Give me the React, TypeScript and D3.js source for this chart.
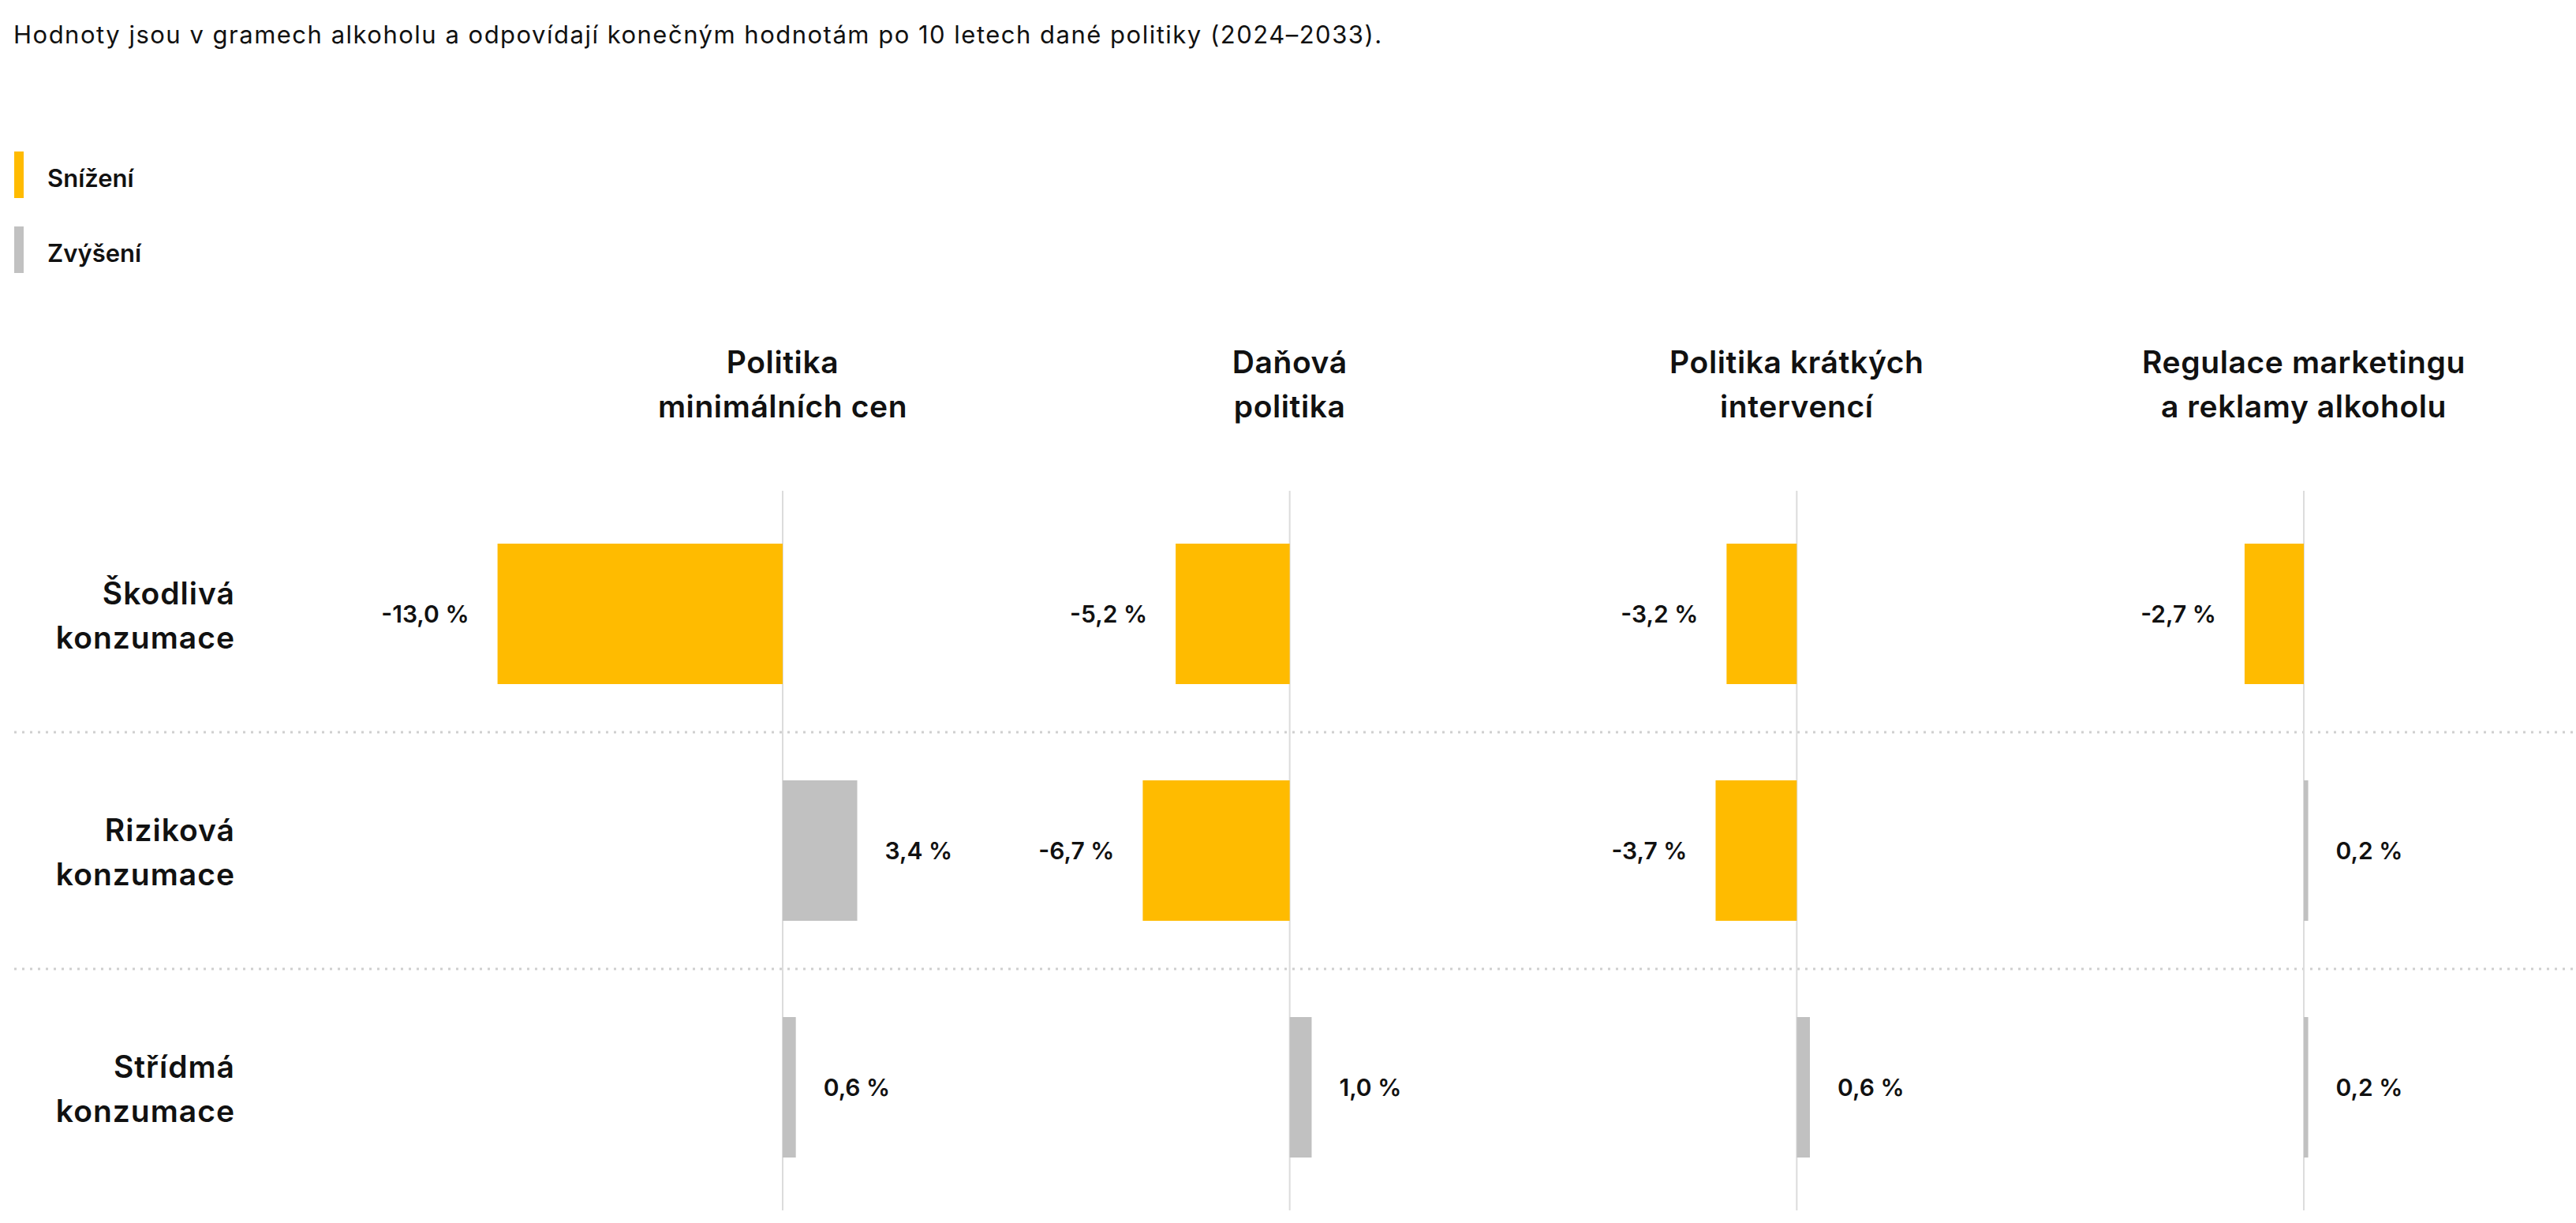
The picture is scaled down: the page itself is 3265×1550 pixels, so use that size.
import * as d3 from "d3";

const policies = [
  "Politika minimálních cen",
  "Daňová politika",
  "Politika krátkých intervencí",
  "Regulace marketingu a reklamy alkoholu",
];
const policyLines = [
  ["Politika", "minimálních cen"],
  ["Daňová", "politika"],
  ["Politika krátkých", "intervencí"],
  ["Regulace marketingu", "a reklamy alkoholu"],
];
const groups = ["Škodlivá konzumace", "Riziková konzumace", "Střídmá konzumace"];
const groupLines = [
  ["Škodlivá", "konzumace"],
  ["Riziková", "konzumace"],
  ["Střídmá", "konzumace"],
];
// values per policy, in order of groups
const minPrice = [-13.0, 3.4, 0.6];
const tax = [-5.2, -6.7, 1.0];
const briefInterv = [-3.2, -3.7, 0.6];
const marketing = [-2.7, 0.2, 0.2];
const values = [minPrice, tax, briefInterv, marketing];

const legendItems = ["Snížení", "Zvýšení"];
const subtitle =
  "Hodnoty jsou v gramech alkoholu a odpovídají konečným hodnotám po 10 letech dané politiky (2024–2033).";

const W = 3265;
const H = 1550;
const FONT = "Inter, 'Noto Sans', sans-serif";
const YELLOW = "#ffbb00";
const GREY = "#c1c1c1";

const locale = d3.formatLocale({
  decimal: ",",
  thousands: " ",
  grouping: [3],
  currency: ["", " Kč"],
  minus: "-",
});
const fmt = locale.format(".1f");

export default function App() {
  const colX = d3.scalePoint<string>().domain(policies).range([992, 2920]);
  const rowY = d3
    .scaleBand<string>()
    .domain(groups)
    .range([628, 1528])
    .paddingInner(0.4067)
    .paddingOuter(0.2033);
  const v = d3.scaleLinear().domain([0, 1]).range([0, 27.8]);

  const bw = rowY.bandwidth();
  const gap = (rowY.step() * rowY.paddingInner()) / 2;

  return (
    <svg
      width={W}
      height={H}
      style={{ position: "absolute", left: 0, top: 0, background: "#fff" }}
      fontFamily={FONT}
    >
      <text x={17} y={55} fontSize={31} fill="#111" letterSpacing={1.5}>
        {subtitle}
      </text>

      {legendItems.map((t, i) => (
        <g key={t} transform={`translate(0,${192 + i * 95})`}>
          <rect x={18} y={0} width={12} height={59} fill={i === 0 ? YELLOW : GREY} />
          <text x={60} y={45} fontSize={31} fontWeight={600} fill="#111">
            {t}
          </text>
        </g>
      ))}

      {/* column headers */}
      {policies.map((p, i) => (
        <text
          key={p}
          x={colX(p)}
          textAnchor="middle"
          fontSize={39}
          fontWeight={600}
          letterSpacing={0.6}
          fill="#111"
        >
          {policyLines[i].map((l, j) => (
            <tspan key={j} x={colX(p)} y={473 + j * 56}>
              {l}
            </tspan>
          ))}
        </text>
      ))}

      {/* row separators */}
      {groups.slice(1).map((g) => (
        <line
          key={g}
          x1={18}
          x2={W}
          y1={(rowY(g) ?? 0) - gap}
          y2={(rowY(g) ?? 0) - gap}
          stroke="#cfcfcf"
          strokeWidth={3}
          strokeDasharray="3 7"
        />
      ))}

      {/* zero lines */}
      {policies.map((p) => (
        <line
          key={p}
          x1={colX(p)}
          x2={colX(p)}
          y1={622}
          y2={1534}
          stroke="#dcdcdc"
          strokeWidth={2}
        />
      ))}

      {/* row labels */}
      {groups.map((g, i) => {
        const cy = (rowY(g) ?? 0) + bw / 2;
        return (
          <text
            key={g}
            textAnchor="end"
            fontSize={39}
            fontWeight={600}
            letterSpacing={1}
            fill="#111"
          >
            {groupLines[i].map((l, j) => (
              <tspan key={j} x={298} y={cy - 12 + j * 56}>
                {l}
              </tspan>
            ))}
          </text>
        );
      })}

      {/* bars */}
      {policies.map((p, i) => {
        const x0 = colX(p) ?? 0;
        return (
          <g key={p}>
            {groups.map((g, j) => {
              const val = values[i][j];
              const y = rowY(g) ?? 0;
              const w = Math.abs(v(val) - v(0));
              const neg = val < 0;
              return (
                <g key={g}>
                  <rect
                    x={neg ? x0 - w : x0}
                    y={y}
                    width={w}
                    height={bw}
                    fill={neg ? YELLOW : GREY}
                  />
                  <text
                    x={neg ? x0 - w - 36 : x0 + w + 35}
                    y={y + bw / 2 + 11}
                    textAnchor={neg ? "end" : "start"}
                    fontSize={30}
                    fontWeight={600}
                    fill="#111"
                  >
                    {fmt(val) + " %"}
                  </text>
                </g>
              );
            })}
          </g>
        );
      })}
    </svg>
  );
}
